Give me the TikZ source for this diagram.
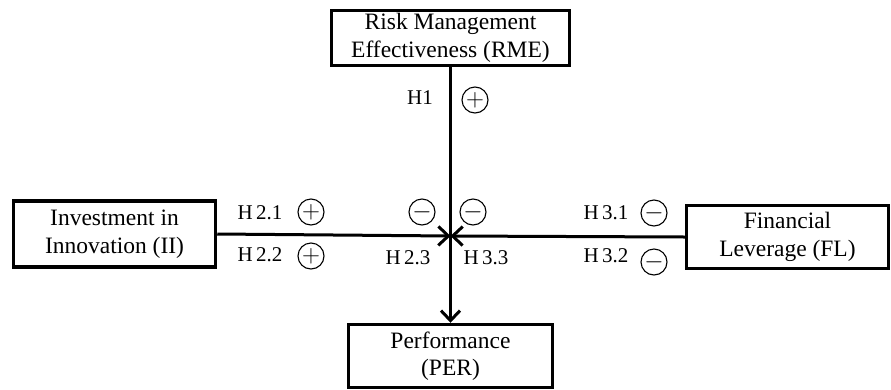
\documentclass[tikz,border=0pt]{standalone}
\usepackage{fontspec}
\setmainfont{Liberation Serif}
\usepackage{tikz}
\usetikzlibrary{positioning,arrows.meta}
\tikzset{
  box/.style={rectangle,draw=black,line width=3.5pt,align=center,inner sep=0pt,font=\fontsize{23.5}{27.5}\selectfont},
  sign/.style={circle,draw=black,line width=1.1pt,minimum size=26pt,inner sep=0pt,font=\fontsize{29}{29}\selectfont},
  hyp/.style={inner sep=0pt,font=\fontsize{21}{21}\selectfont},
  link/.style={-{Straight Barb[length=10pt,width=19pt]},line width=3pt}
}

\begin{document}
\begin{tikzpicture}[x=1pt,y=-1pt]
  \useasboundingbox (0,0) rectangle (891,389);
  \node[box,minimum width=238pt,minimum height=55pt] (rme) at (450.5,38) {Risk Management\\Effectiveness (RME)};
  \node[box,minimum width=202pt,minimum height=66pt] (ii) at (114.5,234) {Investment in\\Innovation (II)};
  \node[box,minimum width=202pt,minimum height=63pt] (fl) at (787.5,237) {Financial\\Leverage (FL)};
  \node[box,minimum width=204pt,minimum height=63pt] (per) at (450.5,356) {Performance\\(PER)};
  \coordinate (hub) at (450.5,236);
  \draw[link] (rme) -- (per);
  \draw[link] (ii.east) -- (hub);
  \draw[link] (fl.west) -- (hub);
  % hypothesis labels
  \node[hyp] (h1) at (420,98) {H1};
  \node[sign] (s1) at (475,100) {$+$};
  \node[hyp] (h21) at (260,213) {H\,2.1};
  \node[sign] (s21) at (311,212) {$+$};
  \node[hyp] (h22) at (260,255) {H\,2.2};
  \node[sign] (s22) at (311,256) {$+$};
  \node[sign] (s23) at (422,212) {$-$};
  \node[hyp] (h23) at (408,258) {H\,2.3};
  \node[sign] (s33) at (473,212) {$-$};
  \node[hyp] (h33) at (486,258) {H\,3.3};
  \node[hyp] (h31) at (606,213) {H\,3.1};
  \node[sign] (s31) at (654,213) {$-$};
  \node[hyp] (h32) at (606,256) {H\,3.2};
  \node[sign] (s32) at (654,262) {$-$};
\end{tikzpicture}
\end{document}
